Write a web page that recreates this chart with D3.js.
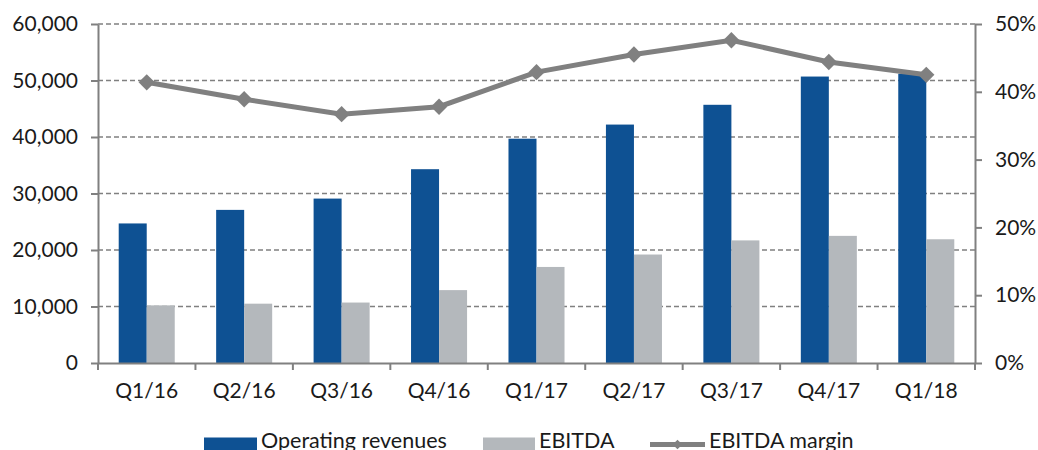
<!DOCTYPE html>
<html>
<head>
<meta charset="utf-8">
<script src="https://cdn.jsdelivr.net/npm/d3@7"></script>
<style>
  body { margin: 0; background: #fff; }
  text { font-family: Lato, "Open Sans", sans-serif; fill: #1a1a1a; }
</style>
</head>
<body>
<div id="chart"></div>
<script>
const quarters = ["Q1/16", "Q2/16", "Q3/16", "Q4/16", "Q1/17", "Q2/17", "Q3/17", "Q4/17", "Q1/18"];
const revenues = [24700, 27100, 29100, 34300, 39700, 42200, 45700, 50700, 51200];
const ebitda = [10200, 10500, 10700, 12900, 17000, 19200, 21700, 22500, 21900];
const margin_pct = [41.4, 38.9, 36.7, 37.8, 42.9, 45.5, 47.6, 44.4, 42.5];
const leftTicks = [0, 10000, 20000, 30000, 40000, 50000, 60000];
const rightTicks = [0, 10, 20, 30, 40, 50];
const legendNames = ["Operating revenues", "EBITDA", "EBITDA margin"];

const W = 1038, H = 450;
const m = {top: 24, right: 63, bottom: 87, left: 98};
const width = W - m.left - m.right, height = H - m.top - m.bottom;

const blue = "#0e5193", grey = "#b4b8bc", lineGrey = "#808080";

const svg = d3.select("#chart").append("svg")
    .attr("width", W).attr("height", H);

const g = svg.append("g").attr("transform", `translate(${m.left},${m.top})`);

const x = d3.scaleBand().domain(quarters).range([0, width]);
const xs = d3.scaleBand().domain(["rev", "ebitda"]).range([0, x.bandwidth() * 0.575])
const yL = d3.scaleLinear().domain([0, 60000]).range([height, 0]);
const yR = d3.scaleLinear().domain([0, 50]).range([height, 0]);

// gridlines
g.append("g").selectAll("line")
  .data(leftTicks.slice(1))
  .join("line")
  .attr("x1", 0).attr("x2", width)
  .attr("y1", d => yL(d)).attr("y2", d => yL(d))
  .attr("stroke", lineGrey).attr("stroke-width", 1.5)
  .attr("stroke-dasharray", "5,3");

// bars
const off = (x.bandwidth() - xs.range()[1]) / 2;
const grp = g.append("g").selectAll("g")
  .data(quarters)
  .join("g")
  .attr("transform", d => `translate(${x(d) + off},0)`);

grp.append("rect")
  .attr("x", xs("rev")).attr("width", xs.bandwidth())
  .attr("y", (d, i) => yL(revenues[i]))
  .attr("height", (d, i) => height - yL(revenues[i]))
  .attr("fill", blue);

grp.append("rect")
  .attr("x", xs("ebitda")).attr("width", xs.bandwidth())
  .attr("y", (d, i) => yL(ebitda[i]))
  .attr("height", (d, i) => height - yL(ebitda[i]))
  .attr("fill", grey);

// axes
const axisStyle = sel => {
  sel.select(".domain").attr("stroke", lineGrey).attr("stroke-width", 2);
  sel.selectAll(".tick line").attr("stroke", lineGrey).attr("stroke-width", 2);
  sel.selectAll(".tick text").style("font-size", "21px").attr("fill", "#1a1a1a");
};

g.append("g")
  .call(d3.axisLeft(yL).tickValues(leftTicks).tickSize(7).tickSizeOuter(0).tickPadding(13)
    .tickFormat(d3.format(",")))
  .call(axisStyle);

g.append("g").attr("transform", `translate(${width},0)`)
  .call(d3.axisRight(yR).tickValues(rightTicks).tickSize(7).tickSizeOuter(0).tickPadding(13)
    .tickFormat(d => d + "%"))
  .call(axisStyle);

g.append("g").attr("transform", `translate(0,${height})`)
  .call(d3.axisBottom(x).tickSize(0).tickSizeOuter(0).tickPadding(20))
  .call(axisStyle);

// category separator ticks
const seps = x.domain().map(d => x(d)).concat([width]);
g.append("g").selectAll("line")
  .data(seps)
  .join("line")
  .attr("x1", d => d).attr("x2", d => d)
  .attr("y1", height).attr("y2", height + 7)
  .attr("stroke", lineGrey).attr("stroke-width", 2);

// margin line
const line = d3.line()
  .x((d, i) => x(quarters[i]) + x.bandwidth() / 2)
  .y(d => yR(d));

g.append("path")
  .datum(margin_pct)
  .attr("d", line)
  .attr("fill", "none")
  .attr("stroke", lineGrey)
  .attr("stroke-width", 5);

const diamond = d3.symbol().type(d3.symbolDiamond2).size(170);
g.append("g").selectAll("path")
  .data(margin_pct)
  .join("path")
  .attr("d", diamond)
  .attr("transform", (d, i) => `translate(${x(quarters[i]) + x.bandwidth() / 2},${yR(d)})`)
  .attr("fill", lineGrey);

// legend
const leg = svg.append("g").attr("transform", "translate(0,444.5)");
const items = [
  {name: legendNames[0], x: 204, w: 53, type: "rect", color: blue},
  {name: legendNames[1], x: 483, w: 52, type: "rect", color: grey},
  {name: legendNames[2], x: 650, w: 55, type: "line", color: lineGrey}
];
items.forEach(it => {
  if (it.type === "rect") {
    leg.append("rect").attr("x", it.x).attr("y", -7).attr("width", it.w).attr("height", 14)
      .attr("fill", it.color);
  } else {
    leg.append("line").attr("x1", it.x).attr("x2", it.x + it.w).attr("y1", 0).attr("y2", 0)
      .attr("stroke", it.color).attr("stroke-width", 5);
    leg.append("path").attr("d", d3.symbol().type(d3.symbolDiamond2).size(60))
      .attr("transform", `translate(${it.x + it.w / 2},0)`).attr("fill", it.color);
  }
  leg.append("text").attr("x", it.x + it.w + 4).attr("y", -4.5).attr("dy", "0.35em")
    .style("font-size", "21.5px").text(it.name);
});
</script>
</body>
</html>
